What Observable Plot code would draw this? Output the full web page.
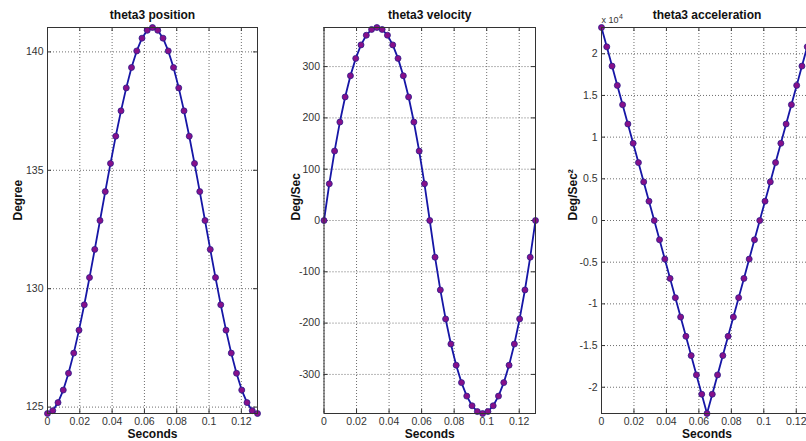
<!DOCTYPE html>
<html><head><meta charset="utf-8">
<script src="https://cdn.jsdelivr.net/npm/d3@7"></script>
<script src="https://cdn.jsdelivr.net/npm/@observablehq/plot@0.6"></script>
<style>
html,body{margin:0;padding:0;background:#fff;}
#wrap{position:relative;width:806px;height:441px;overflow:hidden;background:#fff;}
#wrap > .p{position:absolute;top:0;}
</style></head><body><div id="wrap"></div>
<script>
const time = [0, 0.00325, 0.0065, 0.00975, 0.013, 0.01625, 0.0195, 0.02275, 0.026, 0.02925, 0.0325,
  0.03575, 0.039, 0.04225, 0.0455, 0.04875, 0.052, 0.05525, 0.0585, 0.06175, 0.065,
  0.06825, 0.0715, 0.07475, 0.078, 0.08125, 0.0845, 0.08775, 0.091, 0.09425, 0.0975,
  0.10075, 0.104, 0.10725, 0.1105, 0.11375, 0.117, 0.12025, 0.1235, 0.12675, 0.13];
const position = [124.73, 124.85, 125.19, 125.72, 126.43, 127.28, 128.25, 129.32, 130.47, 131.66, 132.88,
  134.10, 135.29, 136.44, 137.51, 138.48, 139.34, 140.04, 140.58, 140.91, 141.03,
  140.91, 140.58, 140.04, 139.34, 138.48, 137.51, 136.44, 135.29, 134.10, 132.88,
  131.66, 130.47, 129.32, 128.25, 127.28, 126.43, 125.72, 125.19, 124.85, 124.73];
const velocity = [0, 71.5, 135.4, 191.9, 240.8, 282.1, 316.0, 342.3, 361.1, 372.4, 376.2,
  372.4, 361.1, 342.3, 316.0, 282.1, 240.8, 191.9, 135.4, 71.5, 0,
  -71.5, -135.4, -191.9, -240.8, -282.1, -316.0, -342.3, -361.1, -372.4, -376.2,
  -372.4, -361.1, -342.3, -316.0, -282.1, -240.8, -191.9, -135.4, -71.5, 0];
const acceleration = [23150, 20835, 18520, 16205, 13890, 11575, 9260, 6945, 4630, 2315, 0,
  -2315, -4630, -6945, -9260, -11575, -13890, -16205, -18520, -20835, -23150,
  -20835, -18520, -16205, -13890, -11575, -9260, -6945, -4630, -2315, 0,
  2315, 4630, 6945, 9260, 11575, 13890, 16205, 18520, 20835, 23150];

const titles = ["theta3 position", "theta3 velocity", "theta3 acceleration"];
const yLabels = ["Degree", "Deg/Sec", "Deg/Sec\u00B2"];
const xLabel = "Seconds";
const xTicks = [0, 0.02, 0.04, 0.06, 0.08, 0.1, 0.12];
const posTicks = [125, 130, 135, 140];
const velTicks = [-300, -200, -100, 0, 100, 200, 300];
const accTicks = [-20000, -15000, -10000, -5000, 0, 5000, 10000, 15000, 20000];
const accExponentBase = "x 10";
const accExponentPower = "4";

const FONT = "'Liberation Sans', Arial, Helvetica, sans-serif";
const fmtX = d => String(+d.toFixed(2));

function panel({values, yTicks, yFmt, title, ylab, left, width, ml, mr, ylabDx, exponent}) {
  const H = 441, mt = 27, mb = 28;
  const ph = H - mt - mb, pw = width - ml - mr;
  const data = time.map((t, i) => ({t, v: values[i]}));
  const gridStyle = {stroke: "#6e6e6e", strokeOpacity: 1, strokeDasharray: "1,2", strokeWidth: 1};
  const marks = [
    Plot.gridX(xTicks, gridStyle),
    Plot.gridY(yTicks, gridStyle),
    Plot.tickX(xTicks, {x: d => d, insetTop: ph - 4, stroke: "#333"}),
    Plot.tickX(xTicks, {x: d => d, insetBottom: ph - 4, stroke: "#333"}),
    Plot.tickY(yTicks, {y: d => d, insetRight: pw - 4, stroke: "#333"}),
    Plot.tickY(yTicks, {y: d => d, insetLeft: pw - 4, stroke: "#333"}),
    Plot.axisX({ticks: xTicks, tickSize: 0, tickPadding: 4, tickFormat: fmtX, label: null, fill: "#333"}),
    Plot.axisY({ticks: yTicks, tickSize: 0, tickPadding: 4, tickFormat: yFmt, label: null, fill: "#333"}),
    Plot.line(data, {x: "t", y: "v", stroke: "#1616a6", strokeWidth: 1.8}),
    Plot.dot(data, {x: "t", y: "v", r: 3, fill: "#86108a", stroke: "#2c1c8c", strokeWidth: 0.8}),
    Plot.frame({stroke: "#333"}),
    Plot.text([title], {text: d => d, frameAnchor: "top", lineAnchor: "middle", dy: -12, fontWeight: "bold", fontSize: 12, fill: "#111"}),
    Plot.text([xLabel], {text: d => d, frameAnchor: "bottom", lineAnchor: "middle", dy: 21, fontWeight: "bold", fontSize: 12, fill: "#111"}),
    Plot.text([ylab], {text: d => d, frameAnchor: "left", lineAnchor: "middle", dx: -ylabDx, rotate: -90, fontWeight: "bold", fontSize: 12, fill: "#111"})
  ];
  if (exponent) {
    marks.push(Plot.text([exponent[0]], {text: d => d, frameAnchor: "top-left", textAnchor: "start", lineAnchor: "middle", dy: -7, fontSize: 9, fill: "#333"}));
    marks.push(Plot.text([exponent[1]], {text: d => d, frameAnchor: "top-left", textAnchor: "start", lineAnchor: "middle", dx: 17.5, dy: -11, fontSize: 7, fill: "#333"}));
  }
  const svg = Plot.plot({
    width, height: H,
    marginLeft: ml, marginRight: mr, marginTop: mt, marginBottom: mb,
    style: {fontFamily: FONT, fontSize: "10.5px", background: "transparent", overflow: "visible"},
    x: {domain: d3.extent(time)},
    y: {domain: d3.extent(values)},
    marks
  });
  svg.classList.add("p");
  svg.style.left = left + "px";
  document.getElementById("wrap").appendChild(svg);
}

panel({values: position, yTicks: posTicks, yFmt: d => String(d), title: titles[0], ylab: yLabels[0],
  left: 0, width: 270, ml: 47, mr: 13, ylabDx: 29});
panel({values: velocity, yTicks: velTicks, yFmt: d => String(d), title: titles[1], ylab: yLabels[1],
  left: 275, width: 270, ml: 48.5, mr: 10, ylabDx: 28});
panel({values: acceleration, yTicks: accTicks, yFmt: d => String(d / 10000), title: titles[2], ylab: yLabels[2],
  left: 551, width: 271, ml: 50, mr: 10, ylabDx: 28, exponent: [accExponentBase, accExponentPower]});
</script>
</body></html>
